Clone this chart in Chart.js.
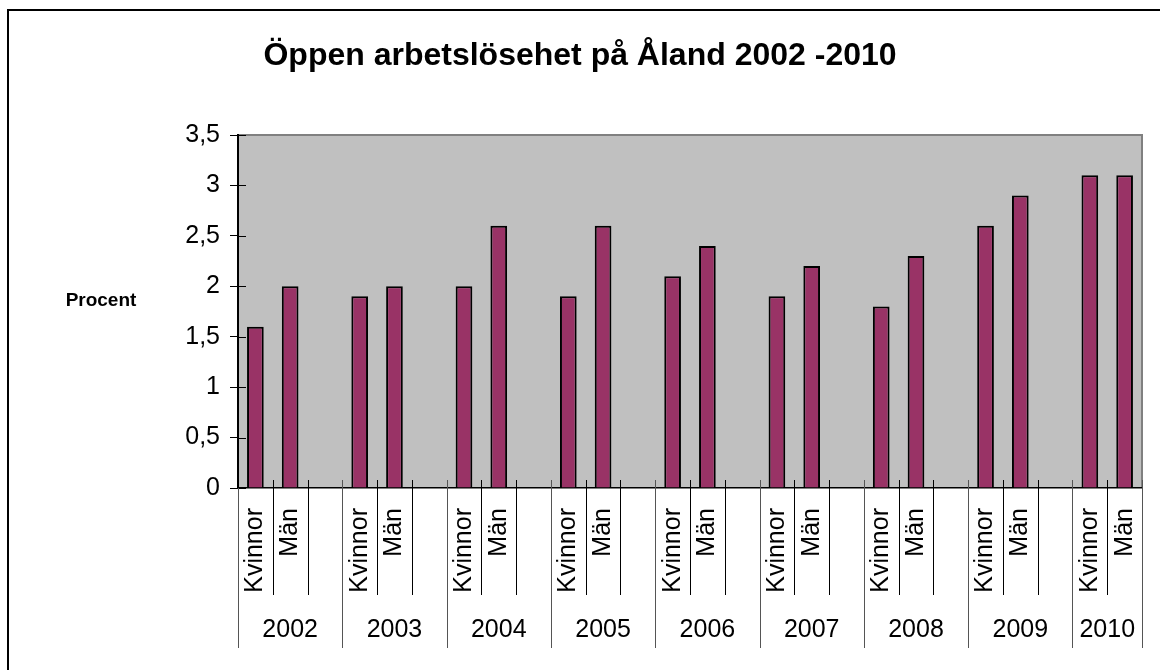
<!DOCTYPE html>
<html>
<head>
<meta charset="utf-8">
<title>Öppen arbetslösehet på Åland 2002 -2010</title>
<script src="https://cdn.jsdelivr.net/npm/chart.js@4"></script>
<style>
  html, body { margin: 0; padding: 0; background: #fff; }
  #wrap { width: 1160px; height: 670px; }
</style>
</head>
<body>
<div id="wrap"><canvas id="chart" width="1160" height="670"></canvas></div>
<script>
// Data
const years = ['2002', '2003', '2004', '2005', '2006', '2007', '2008', '2009', '2010'];
const groups = ['Kvinnor', 'Män'];
const kvinnor = [1.6, 1.9, 2.0, 1.9, 2.1, 1.9, 1.8, 2.6, 3.1];
const man = [2.0, 2.0, 2.6, 2.6, 2.4, 2.2, 2.3, 2.9, 3.1];
const yTicks = [0, 0.5, 1, 1.5, 2, 2.5, 3, 3.5];

// one slot per bar, with an empty slot between years (not after the last one)
const labels = [];
const values = [];
const yearOfSlot = [];
years.forEach(function(y, i) {
    labels.push(groups[0]); values.push(kvinnor[i]); yearOfSlot.push(i);
    labels.push(groups[1]); values.push(man[i]); yearOfSlot.push(i);
    if (i < years.length - 1) {
        labels.push(''); values.push(null); yearOfSlot.push(i);
    }
});

const FONT = 'Arial, "Liberation Sans", sans-serif';

// plot background, outer frame, separators, year labels
const excelLook = {
    id: 'excelLook',
    beforeDraw: function(chart) {
        const ctx = chart.ctx;
        const a = chart.chartArea;
        ctx.save();
        ctx.fillStyle = '#fff';
        ctx.fillRect(0, 0, chart.width, chart.height);
        // outer frame
        ctx.strokeStyle = '#000';
        ctx.lineWidth = 2;
        ctx.strokeRect(8, 10, chart.width + 20, chart.height + 20);
        // plot area
        ctx.fillStyle = '#c0c0c0';
        ctx.fillRect(a.left, a.top, a.right - a.left, a.bottom - a.top);
        ctx.strokeStyle = '#808080';
        ctx.lineWidth = 2;
        ctx.beginPath();
        ctx.moveTo(a.left, a.top);
        ctx.lineTo(a.right, a.top);
        ctx.lineTo(a.right, a.bottom);
        ctx.stroke();
        ctx.restore();
    },
    afterDraw: function(chart) {
        const ctx = chart.ctx;
        const a = chart.chartArea;
        const x = chart.scales.x;
        const y = chart.scales.y;
        const w = x.getPixelForValue(1) - x.getPixelForValue(0);
        ctx.save();
        // small inner ticks on the value axis
        ctx.strokeStyle = '#000';
        ctx.lineWidth = 1;
        yTicks.forEach(function(v) {
            const py = Math.round(y.getPixelForValue(v)) + 0.5;
            ctx.beginPath();
            ctx.moveTo(a.left, py);
            ctx.lineTo(a.left + 8, py);
            ctx.stroke();
        });
        // category separators
        for (let i = 0; i <= labels.length; i++) {
            const px = Math.round(x.getPixelForValue(i) - w / 2) + 0.5;
            const yearEdge = i === 0 || i === labels.length || labels[i] === groups[0];
            ctx.strokeStyle = yearEdge ? '#555' : '#000';
            ctx.beginPath();
            ctx.moveTo(px, i === 0 ? a.bottom : a.bottom - 8);
            ctx.lineTo(px, yearEdge ? 648 : 595);
            ctx.stroke();
        }
        // year labels
        ctx.fillStyle = '#000';
        ctx.font = '25px ' + FONT;
        ctx.textAlign = 'center';
        ctx.textBaseline = 'middle';
        years.forEach(function(yr, i) {
            let first = -1, last = -1;
            yearOfSlot.forEach(function(g, s) {
                if (g === i) { if (first < 0) first = s; last = s; }
            });
            const left = x.getPixelForValue(first) - w / 2;
            const right = x.getPixelForValue(last) + w / 2;
            ctx.fillText(yr, (left + right) / 2, 630);
        });
        // axis title
        ctx.font = 'bold 19px ' + FONT;
        ctx.fillText('Procent', 101, 301);
        ctx.restore();
    }
};

new Chart(document.getElementById('chart'), {
    type: 'bar',
    data: {
        labels: labels,
        datasets: [{
            label: 'Procent',
            data: values,
            backgroundColor: '#993366',
            borderColor: '#000',
            borderWidth: 2,
            barPercentage: 1,
            categoryPercentage: 0.48
        }]
    },
    options: {
        responsive: false,
        animation: false,
        layout: {
            padding: { left: 18, right: 18, top: 0, bottom: 0 }
        },
        plugins: {
            legend: { display: false },
            tooltip: { enabled: false },
            title: {
                display: true,
                text: 'Öppen arbetslösehet på Åland 2002 -2010',
                color: '#000',
                font: { family: FONT, size: 32, weight: 'bold', lineHeight: 1.2 },
                padding: { top: 37, bottom: 59.6 }
            }
        },
        scales: {
            x: {
                grid: { display: false },
                border: { color: '#000', width: 1.5 },
                ticks: {
                    autoSkip: false,
                    minRotation: 90,
                    maxRotation: 90,
                    padding: 12,
                    color: '#000',
                    font: { family: FONT, size: 25 }
                },
                afterFit: function(scale) {
                    scale.height = 182;
                    scale.paddingLeft = 0;
                    scale.paddingRight = 0;
                }
            },
            y: {
                min: 0,
                max: 3.5,
                afterBuildTicks: function(scale) {
                    scale.ticks = yTicks.map(function(v) { return { value: v }; });
                },
                grid: {
                    drawOnChartArea: false,
                    tickLength: 8,
                    color: '#000'
                },
                border: { color: '#000', width: 2 },
                ticks: {
                    padding: 10,
                    color: '#000',
                    font: { family: FONT, size: 25 },
                    callback: function(v) { return String(v).replace('.', ','); }
                },
                afterFit: function(scale) {
                    scale.width = 220;
                    scale.paddingTop = 0;
                    scale.paddingBottom = 0;
                }
            }
        }
    },
    plugins: [excelLook]
});
</script>
</body>
</html>
